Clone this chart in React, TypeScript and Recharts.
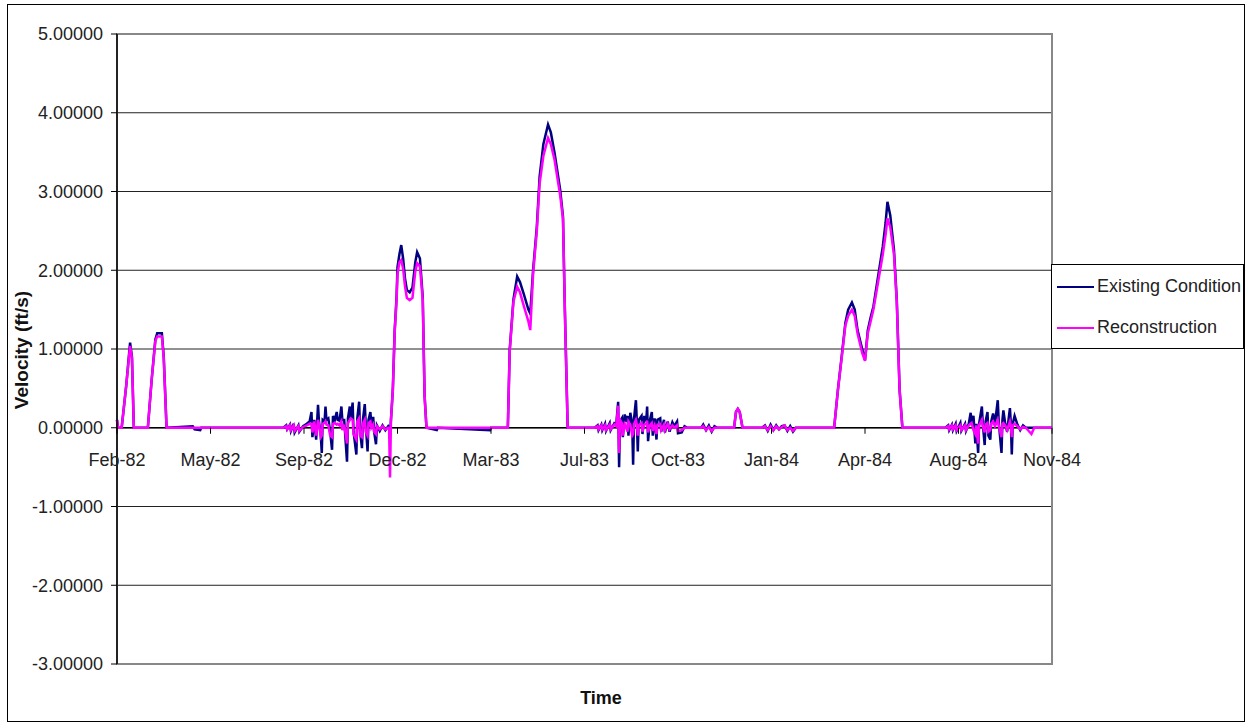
import React from 'react'
import { LineChart, Line, XAxis, YAxis, CartesianGrid, ReferenceArea, ReferenceLine } from 'recharts'

// day index from the first record (mid Feb 1982), one label every 100 days
const tickDays = [0, 100, 200, 300, 400, 500, 600, 700, 800, 900, 1000]
const tickLabels = ['Feb-82', 'May-82', 'Sep-82', 'Dec-82', 'Mar-83', 'Jul-83', 'Oct-83', 'Jan-84', 'Apr-84', 'Aug-84', 'Nov-84']
const yTicks = [-3, -2, -1, 0, 1, 2, 3, 4, 5]

// rows: [day, existing condition, reconstruction]
const spring82 = [
  [0, 0.1, 0.1], [1, 0, 0], [5, 0, 0], [10, 0.55, 0.55], [13, 0.95, 0.92], [14, 1.08, 1.04], [16, 0.9, 0.88],
  [18, 0, 0], [33, 0, 0], [37, 0.6, 0.6], [41, 1.12, 1.1], [43, 1.2, 1.16], [48, 1.2, 1.16], [50, 0.9, 0.88],
  [53, 0, 0], [81, 0.02, 0], [83, -0.02, 0], [89, -0.03, 0], [90, 0, 0], [178, 0, 0],
]

const fall82 = [
  [181, 0.03, 0.02], [182, -0.02, -0.02], [185, 0.04, 0.03], [186, -0.04, -0.03], [189, 0.05, 0.03],
  [190, -0.06, -0.04], [194, 0.03, 0.02], [195, -0.05, -0.04], [199, 0.02, 0.01], [203, 0.05, 0.03],
  [206, 0.08, 0.05], [208, 0.2, 0.05], [209, -0.12, -0.06], [211, 0.1, 0.08], [213, -0.15, -0.1],
  [215, 0.29, 0.1], [216, 0.08, 0.05], [218, -0.1, -0.12], [219, -0.32, -0.1], [220, 0.1, 0.05],
  [222, 0.08, 0.06], [223, 0.27, 0.08], [224, 0.1, 0.04], [226, 0.12, 0.03], [228, -0.05, -0.1],
  [230, -0.28, -0.12], [231, 0.15, 0.05], [233, 0.1, 0.06], [235, 0.2, 0.04], [236, 0.1, 0.05],
  [238, 0.09, 0.03], [240, 0.27, 0.08], [241, 0.1, -0.03], [243, 0.1, 0.04], [246, -0.43, -0.2],
  [247, 0.12, 0.06], [249, 0.27, 0.1], [250, 0.1, 0.12], [252, 0.32, 0.1], [253, -0.05, -0.08],
  [256, -0.34, -0.15], [257, 0.12, 0.08], [259, 0.33, 0.12], [260, -0.05, -0.1], [262, -0.26, -0.12],
  [263, 0.1, 0.05], [265, 0.3, 0.1], [266, 0.05, -0.05], [268, -0.3, -0.1], [269, 0.1, 0.06],
  [271, 0.2, 0.08], [272, 0.05, 0], [274, 0.14, 0.04], [275, -0.05, -0.05], [277, -0.21, -0.08],
  [278, 0.03, 0.02], [281, -0.04, -0.02], [284, 0.03, 0.02], [287, -0.03, -0.02], [290, 0.02, 0],
  [291, 0, 0], [292, -0.1, -0.63],
]

const winter82 = [
  [293, 0.1, 0.1], [295, 0.48, 0.48], [297, 1.24, 1.22], [299, 1.66, 1.62], [300, 2.04, 1.95],
  [302, 2.2, 2.1], [304, 2.32, 2.13], [306, 2.15, 2.02], [308, 1.9, 1.8], [310, 1.75, 1.65],
  [313, 1.72, 1.62], [316, 1.78, 1.65], [319, 2.1, 1.98], [321, 2.23, 2.09], [324, 2.15, 2.05],
  [327, 1.66, 1.62], [329, 0.4, 0.4], [331, 0, 0], [342, -0.03, 0], [343, 0, 0], [399, -0.03, 0],
  [400, 0, 0], [418, 0, 0],
]

const spring83 = [
  [420, 0.99, 0.97], [424, 1.63, 1.6], [428, 1.92, 1.79], [431, 1.85, 1.72], [435, 1.7, 1.55],
  [440, 1.5, 1.35], [442, 1.45, 1.24], [445, 2.0, 1.95], [449, 2.55, 2.5], [452, 3.19, 3.1],
  [456, 3.6, 3.45], [461, 3.85, 3.68], [464, 3.75, 3.6], [468, 3.49, 3.4], [474, 3.02, 2.95],
  [477, 2.68, 2.65], [479, 1.5, 1.5], [482, 0, 0], [511, 0, 0],
]

const summer83 = [
  [514, 0.03, 0.02], [515, -0.03, -0.02], [518, 0.04, 0.03], [519, -0.03, -0.02], [522, 0.05, 0.03],
  [523, -0.04, -0.03], [527, 0.06, 0.04], [528, -0.03, -0.02], [532, 0.06, 0.04], [534, 0.05, 0.02],
  [536, 0.33, 0.28], [537, -0.5, -0.32], [538, 0.08, 0.1], [540, 0.12, 0.06], [541, -0.12, -0.1],
  [543, 0.17, 0.05], [544, 0.08, 0.03], [546, 0.15, -0.05], [547, -0.1, 0.08], [549, 0.19, 0.04],
  [551, 0.05, -0.1], [552, -0.47, -0.08], [553, 0.12, 0.05], [555, 0.35, 0.1], [556, 0.08, 0.04],
  [557, -0.3, -0.1], [558, 0.1, 0.03], [561, 0.15, 0.06], [562, -0.08, -0.05], [564, 0.15, 0.04],
  [566, 0.08, 0.05], [567, 0.27, 0.09], [568, -0.17, -0.06], [570, 0.1, 0.03], [572, 0.2, 0.06],
  [573, -0.1, -0.04], [575, 0.12, 0.03], [577, -0.15, -0.08], [578, 0.1, 0.04], [581, 0.12, 0.05],
  [582, -0.05, -0.03], [585, 0.1, 0.04], [586, -0.06, -0.03], [589, 0.08, 0.05], [591, -0.05, -0.02],
  [594, 0.07, 0.03], [596, 0.02, 0], [599, 0.08, 0.03], [600, -0.07, -0.04], [604, -0.06, -0.03],
  [607, 0.02, 0], [610, 0, 0],
]

const winter83 = [
  [625, 0, 0], [627, 0.04, 0.02], [630, -0.03, -0.03], [633, 0.03, 0.01], [636, -0.05, -0.04],
  [639, 0.02, 0], [642, 0, 0], [660, 0, 0], [662, 0.2, 0.2], [664, 0.24, 0.24], [666, 0.2, 0.2],
  [669, 0, 0], [690, 0, 0], [693, 0.03, 0.02], [696, -0.04, -0.03], [699, 0.04, 0.02], [702, -0.03, -0.03],
  [705, 0.03, 0.02], [708, -0.02, -0.02], [711, 0.02, 0.01], [714, 0.03, 0.03], [717, -0.04, -0.03],
  [720, 0.02, 0], [723, -0.05, -0.04], [726, 0, 0], [767, 0, 0],
]

const spring84 = [
  [771, 0.48, 0.47], [775, 0.9, 0.88], [779, 1.33, 1.3], [782, 1.5, 1.42], [786, 1.59, 1.5],
  [789, 1.5, 1.42], [792, 1.24, 1.2], [797, 1.0, 0.95], [800, 0.86, 0.85], [803, 1.24, 1.2],
  [806, 1.4, 1.35], [809, 1.54, 1.5], [814, 1.92, 1.85], [819, 2.3, 2.2], [822, 2.6, 2.45],
  [824, 2.87, 2.66], [827, 2.7, 2.55], [831, 2.26, 2.2], [834, 1.62, 1.6], [837, 0.48, 0.48],
  [840, 0, 0], [886, 0, 0],
]

const summer84 = [
  [889, 0.03, 0.02], [890, -0.03, -0.02], [893, 0.04, 0.03], [894, -0.03, -0.02], [897, 0.05, 0.03],
  [898, -0.04, -0.03], [902, 0.06, 0.03], [903, -0.04, -0.03], [907, 0.05, 0.03], [908, -0.04, -0.03],
  [911, 0.05, 0.03], [913, 0.19, 0.05], [914, 0.06, 0.06], [916, 0.15, -0.03], [918, -0.2, -0.08],
  [919, 0.05, 0.03], [921, -0.32, -0.2], [922, 0.05, 0.03], [925, 0.27, 0.1], [926, 0.05, 0.02],
  [928, -0.22, -0.06], [929, 0.08, 0.04], [931, 0.2, 0.06], [932, -0.1, -0.05], [934, -0.15, -0.03],
  [935, 0.08, 0.05], [937, 0.18, 0.08], [939, 0.05, 0.02], [942, 0.35, 0.1], [943, 0.08, 0.03],
  [946, -0.32, -0.12], [947, 0.1, 0.05], [948, 0.22, 0.06], [950, 0.05, 0.03], [952, -0.05, -0.03],
  [955, 0.25, 0.08], [956, 0.05, 0.02], [957, -0.34, -0.12], [958, 0.05, 0.03], [960, 0.15, 0.05],
  [963, 0.04, 0.02], [966, -0.03, -0.02], [969, 0.03, 0.01], [972, 0, 0], [978, 0, -0.08],
  [981, 0, 0], [1000, 0, 0],
]

const data = [...spring82, ...fall82, ...winter82, ...spring83, ...summer83, ...winter83, ...spring84, ...summer84].map(
  ([day, existing, reconstruction]) => ({ day, existing, reconstruction }),
)

const W = 1250
const H = 727
const plotTop = 34
const plotBottom = 664
const plotLeft = 117
const plotRight = 1052
const yMin = -3
const yMax = 5
const zeroY = plotTop + ((plotBottom - plotTop) * (yMax - 0)) / (yMax - yMin)

const font = '"Liberation Sans", Arial, sans-serif'

const DateTick = (props: any) => {
  const { x, payload } = props
  const idx = tickDays.indexOf(payload.value)
  return (
    <g>
      <line x1={x} x2={x} y1={zeroY} y2={zeroY + 6} stroke="#000" />
      <text x={x} y={zeroY + 38} textAnchor="middle" fontSize={18} fill="#222" fontFamily={font}>
        {tickLabels[idx]}
      </text>
    </g>
  )
}

const App = () => {
  return (
    <div style={{ position: 'absolute', left: 0, top: 0, width: W, height: H, background: '#fff' }}>
      <div style={{ position: 'absolute', left: 7, top: 4, width: 1238, height: 718, border: '1px solid #000', boxSizing: 'border-box' }} />
      <div style={{ position: 'absolute', left: 0, top: 0 }}>
        <LineChart
          width={W}
          height={H}
          data={data}
          margin={{ top: plotTop, right: W - plotRight, bottom: H - plotBottom - 30, left: plotLeft - 100 }}
        >
          <CartesianGrid vertical={false} stroke="#222" strokeWidth={1} />
          <ReferenceArea x1={0} x2={1000} y1={yMin} y2={yMax} fill="none" stroke="#888" strokeWidth={2} />
          <XAxis
            dataKey="day"
            type="number"
            domain={[0, 1000]}
            ticks={tickDays}
            interval={0}
            height={30}
            axisLine={false}
            tickLine={false}
            tick={<DateTick />}
          />
          <YAxis
            type="number"
            domain={[yMin, yMax]}
            ticks={yTicks}
            interval={0}
            width={100}
            tickFormatter={(v: number) => v.toFixed(5)}
            tick={{ fontSize: 18, fill: '#222', fontFamily: font }}
            axisLine={{ stroke: '#000', strokeWidth: 1.5 }}
            tickLine={{ stroke: '#000' }}
            tickSize={6}
            tickMargin={8}
          />
          <ReferenceLine y={0} stroke="#000" strokeWidth={1.5} />
          <Line type="linear" dataKey="existing" stroke="#000080" strokeWidth={2.5} dot={false} isAnimationActive={false} />
          <Line type="linear" dataKey="reconstruction" stroke="#ff00ff" strokeWidth={2.5} dot={false} isAnimationActive={false} />
        </LineChart>
      </div>
      <div
        style={{
          position: 'absolute', left: 0, top: 340, width: 44, height: 20, fontFamily: font, fontWeight: 'bold',
          fontSize: 19, color: '#111', whiteSpace: 'nowrap', display: 'flex', justifyContent: 'center',
        }}
      >
        <div style={{ transform: 'rotate(-90deg)', lineHeight: '20px' }}>Velocity (ft/s)</div>
      </div>
      <div style={{ position: 'absolute', left: 551, top: 688, width: 100, textAlign: 'center', fontFamily: font, fontWeight: 'bold', fontSize: 18, color: '#111' }}>
        Time
      </div>
      <div
        style={{
          position: 'absolute', left: 1051, top: 264, width: 193, height: 85, border: '1px solid #000', boxSizing: 'border-box',
          background: '#fff', overflow: 'hidden', fontFamily: font, fontSize: 18, color: '#222', whiteSpace: 'nowrap',
        }}
      >
        <div style={{ position: 'absolute', left: 5, top: 21, width: 37, height: 2, background: '#000080' }} />
        <div style={{ position: 'absolute', left: 45, top: 11, lineHeight: '20px' }}>Existing Condition</div>
        <div style={{ position: 'absolute', left: 5, top: 62, width: 37, height: 2, background: '#ff00ff' }} />
        <div style={{ position: 'absolute', left: 45, top: 52, lineHeight: '20px' }}>Reconstruction</div>
      </div>
    </div>
  )
}

export default App
